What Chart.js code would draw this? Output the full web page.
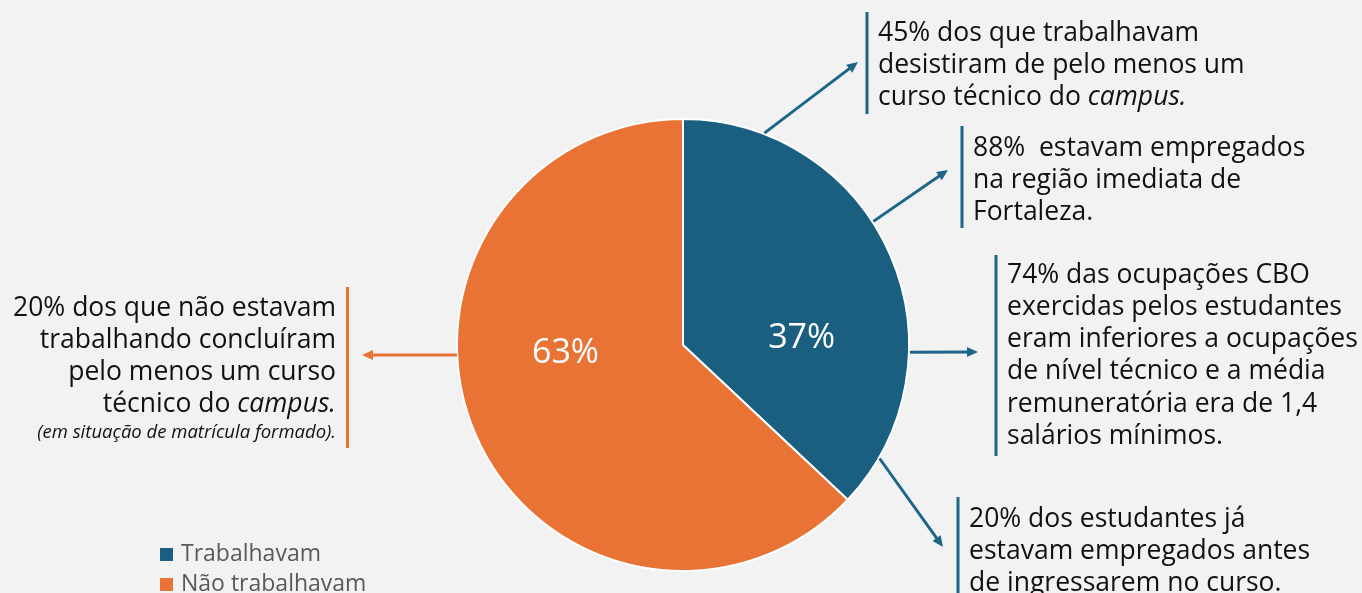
<!DOCTYPE html>
<html>
<head>
<meta charset="utf-8">
<script src="https://cdn.jsdelivr.net/npm/chart.js@4"></script>
<style>
  html, body { margin: 0; padding: 0; background: #f2f2f2; }
  canvas { display: block; }
</style>
</head>
<body>
<canvas id="pie" width="1362" height="593"></canvas>
<script>
// data
const labels = ['Trabalhavam', 'Não trabalhavam'];
const values = [37, 63];
const colors = ['#1a5f80', '#e97335'];

// notes: [text, italic] runs per line
const notesLeft = [
  [['20% dos que não estavam', false]],
  [['trabalhando concluíram', false]],
  [['pelo menos um curso', false]],
  [['técnico do ', false], ['campus.', true]]
];
const noteLeftSmall = '(em situação de matrícula formado).';

const notesRight = [
  {
    lines: [
      [['45% dos que trabalhavam', false]],
      [['desistiram de pelo menos um', false]],
      [['curso técnico do ', false], ['campus.', true]]
    ]
  },
  {
    lines: [
      [['88%  estavam empregados', false]],
      [['na região imediata de', false]],
      [['Fortaleza.', false]]
    ]
  },
  {
    lines: [
      [['74% das ocupações CBO', false]],
      [['exercidas pelos estudantes', false]],
      [['eram inferiores a ocupações', false]],
      [['de nível técnico e a média', false]],
      [['remuneratória era de 1,4', false]],
      [['salários mínimos.', false]]
    ]
  },
  {
    lines: [
      [['20% dos estudantes já', false]],
      [['estavam empregados antes', false]],
      [['de ingressarem no curso.', false]]
    ]
  }
];

const FONT = '"Open Sans", "Noto Sans", sans-serif';

function arrow(ctx, x1, y1, x2, y2, color) {
  ctx.strokeStyle = color;
  ctx.fillStyle = color;
  ctx.lineWidth = 3;
  const a = Math.atan2(y2 - y1, x2 - x1);
  const hl = 11, hw = 5;
  ctx.beginPath();
  ctx.moveTo(x1, y1);
  ctx.lineTo(x2 - Math.cos(a) * hl * 0.8, y2 - Math.sin(a) * hl * 0.8);
  ctx.stroke();
  ctx.beginPath();
  ctx.moveTo(x2, y2);
  ctx.lineTo(x2 - Math.cos(a) * hl - Math.sin(a) * hw, y2 - Math.sin(a) * hl + Math.cos(a) * hw);
  ctx.lineTo(x2 - Math.cos(a) * hl + Math.sin(a) * hw, y2 - Math.sin(a) * hl - Math.cos(a) * hw);
  ctx.closePath();
  ctx.fill();
}

function drawLine(ctx, runs, x, y, size, align) {
  let total = 0;
  runs.forEach(r => {
    ctx.font = (r[1] ? 'italic ' : '') + size + 'px ' + FONT;
    total += ctx.measureText(r[0]).width;
  });
  let cx = align === 'right' ? x - total : x;
  ctx.textAlign = 'left';
  runs.forEach(r => {
    ctx.font = (r[1] ? 'italic ' : '') + size + 'px ' + FONT;
    ctx.fillText(r[0], cx, y);
    cx += ctx.measureText(r[0]).width;
  });
}

const notesPlugin = {
  id: 'notes',
  afterDraw(chart) {
    const ctx = chart.ctx;
    const arc = chart.getDatasetMeta(0).data[0];
    const cx = arc.x, cy = arc.y, r = arc.outerRadius;
    ctx.save();

    // percentage labels
    ctx.fillStyle = '#ffffff';
    ctx.font = '34px ' + FONT;
    ctx.textAlign = 'center';
    ctx.textBaseline = 'middle';
    ctx.fillText(values[0] + '%', cx + r * 0.525, cy - 7);
    ctx.fillText(values[1] + '%', cx - r * 0.52, cy + 8);

    // right notes: start angle (deg from top, clockwise), arrow end, bar x, bar top/bottom, first line y
    const layout = [
      { ang: 21, ex: 858, ey: 62, bx: 867, bt: 12, bb: 114, ty: 33 },
      { ang: 57, ex: 948, ey: 170, bx: 962, bt: 126, bb: 228, ty: 148 },
      { ang: 91.8, ex: 978, ey: 352, bx: 996, bt: 255, bb: 456, ty: 275 },
      { ang: 120, ex: 943, ey: 547, bx: 958, bt: 497, bb: 600, ty: 519 }
    ];
    const blue = '#1d6688';
    ctx.textBaseline = 'middle';
    notesRight.forEach((n, i) => {
      const L = layout[i];
      const a = (L.ang - 90) * Math.PI / 180;
      arrow(ctx, cx + Math.cos(a) * (r + 1), cy + Math.sin(a) * (r + 1), L.ex, L.ey, blue);
      ctx.fillStyle = blue;
      ctx.fillRect(L.bx - 1.5, L.bt, 3, L.bb - L.bt);
      ctx.fillStyle = '#111111';
      n.lines.forEach((ln, j) => drawLine(ctx, ln, L.bx + 11, L.ty + j * 32.3, 26.5, 'left'));
    });

    // left note
    const orange = '#e97335';
    arrow(ctx, cx - r, cy + 10, 362, cy + 10, orange);
    ctx.fillStyle = orange;
    ctx.fillRect(346, 287, 3, 161);
    ctx.fillStyle = '#111111';
    notesLeft.forEach((ln, j) => drawLine(ctx, ln, 336, 308 + j * 32.3, 26.5, 'right'));
    drawLine(ctx, [[noteLeftSmall, true]], 336, 433, 18.5, 'right');

    // legend
    ctx.font = '23px ' + FONT;
    labels.forEach((lb, i) => {
      const y = 554 + i * 30;
      ctx.fillStyle = colors[i];
      ctx.fillRect(160, y - 6, 13, 13);
      ctx.fillStyle = '#595959';
      ctx.textAlign = 'left';
      ctx.fillText(lb, 181, y);
    });
    ctx.restore();
  }
};

new Chart(document.getElementById('pie').getContext('2d'), {
  type: 'pie',
  data: {
    labels: labels,
    datasets: [{
      data: values,
      backgroundColor: colors,
      borderColor: '#ffffff',
      borderWidth: 2
    }]
  },
  options: {
    responsive: false,
    animation: false,
    layout: { padding: { left: 456, right: 452, top: 118, bottom: 21 } },
    plugins: {
      legend: { display: false },
      tooltip: { enabled: false }
    }
  },
  plugins: [notesPlugin]
});
</script>
</body>
</html>
